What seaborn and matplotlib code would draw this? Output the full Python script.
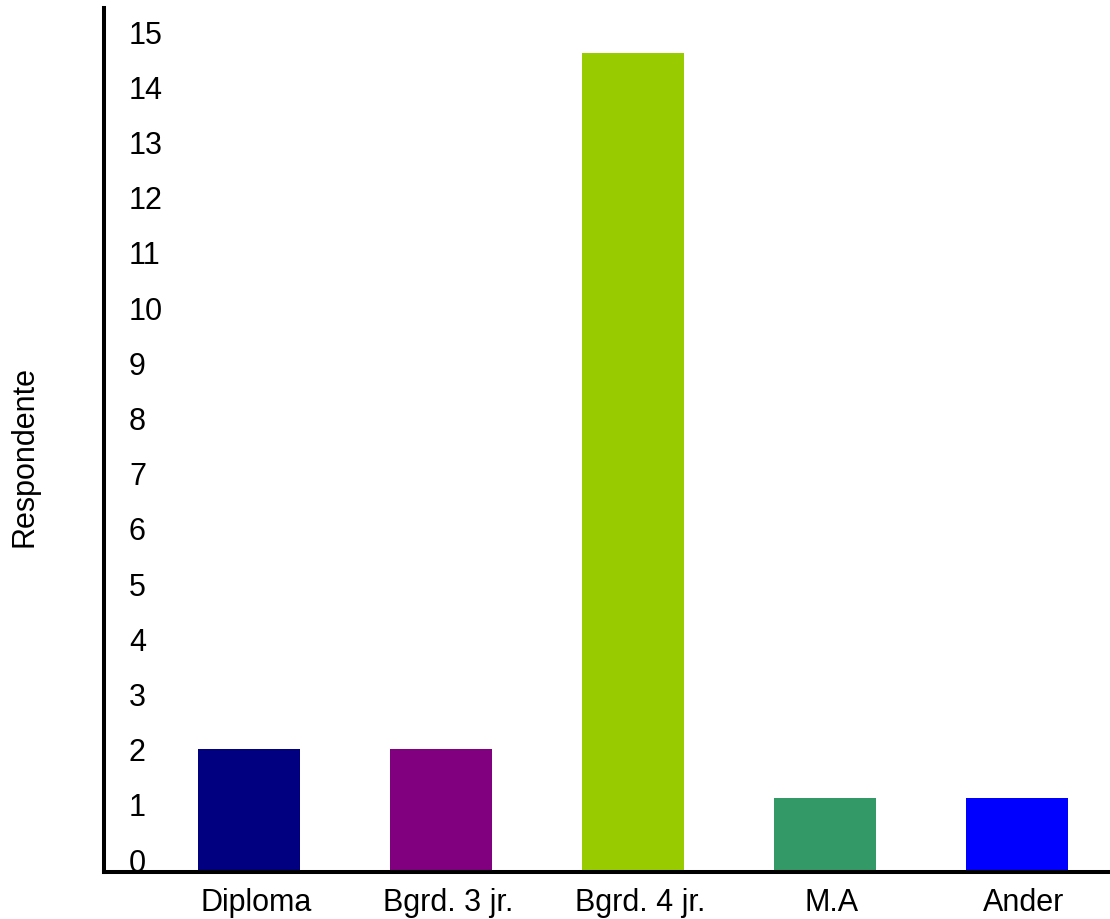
import matplotlib
matplotlib.use("Agg")
import matplotlib.pyplot as plt
import matplotlib.transforms as mtransforms
import seaborn as sns
import pandas as pd

categories = ["Diploma", "Bgrd. 3 jr.", "Bgrd. 4 jr.", "M.A", "Ander"]
values = [2, 2, 14.6, 1.1, 1.1]
colors = ["#000080", "#800080", "#99CC00", "#339966", "#0000FF"]
yticks = list(range(0, 16))

sns.set_theme(style="white")
plt.rcParams["font.family"] = ["Liberation Sans", "DejaVu Sans"]

df = pd.DataFrame({"cat": categories, "val": values})

DPI = 100
fig = plt.figure(figsize=(11.1, 9.2), dpi=DPI)
ax = fig.add_axes([104 / 1110, 47 / 920, 1 - 104 / 1110, (873 - 9) / 920])

sns.barplot(data=df, x="cat", y="val", hue="cat", palette=colors,
            legend=False, width=0.535, saturation=1, ax=ax, linewidth=0)

ymin, ymax = -0.235, 15.42
ax.set_ylim(ymin, ymax)
ax.set_xlim(-0.755, 4.484)

# extend bars down to the axis line
for p in ax.patches:
    h = p.get_height()
    p.set_y(ymin)
    p.set_height(h - ymin)

ax.set_yticks(yticks)
ax.set_yticklabels([str(t) for t in yticks])
ax.tick_params(axis="y", length=0, pad=-18, labelsize=22, labelcolor="black")
for lab in ax.get_yticklabels():
    lab.set_horizontalalignment("left")
ax.tick_params(axis="x", length=0, pad=11, labelsize=22, labelcolor="black")
offset = mtransforms.ScaledTranslation(7 / DPI, 0, fig.dpi_scale_trans)
for lab in ax.get_xticklabels():
    lab.set_transform(lab.get_transform() + offset)

ax.set_xlabel("")
ax.set_ylabel("")
for s in ["top", "right"]:
    ax.spines[s].set_visible(False)
for s in ["left", "bottom"]:
    ax.spines[s].set_color("black")
    ax.spines[s].set_linewidth(2.9)
    ax.spines[s].set_zorder(5)

fig.text(25 / 1110, 1 - 457 / 920, "Respondente", rotation=90,
         ha="center", va="center", fontsize=22, color="black")

fig.savefig("out.png", dpi=DPI)
